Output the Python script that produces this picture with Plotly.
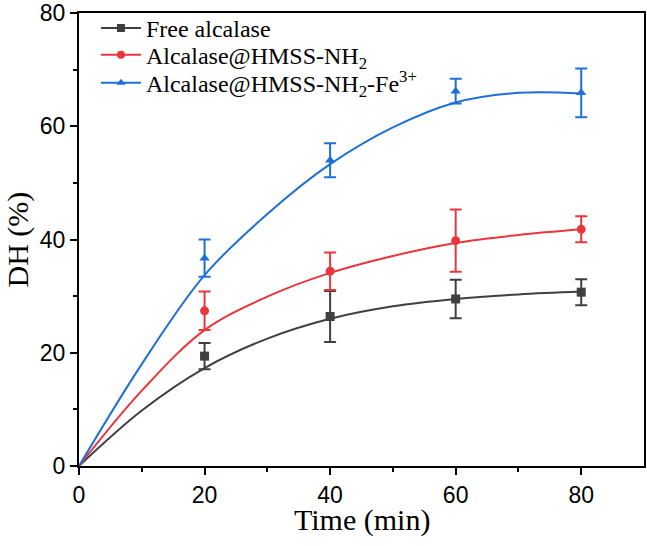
import plotly.graph_objects as go

# ---- data ----
time_pts = [20, 40, 60, 80]
free_dh = [19.4, 26.4, 29.5, 30.7]
free_err = [2.3, 4.5, 3.4, 2.3]
nh2_dh = [27.4, 34.4, 39.8, 41.8]
nh2_err = [3.4, 3.3, 5.5, 2.3]
fe_dh = [36.7, 54.0, 66.2, 65.9]
fe_err = [3.3, 3.0, 2.2, 4.3]

# fitted curves
curve_t = [0, 10, 20, 30, 40, 50, 60, 70, 80]
free_fit = [0, 9.8, 17.3, 22.5, 26.0, 28.2, 29.5, 30.3, 30.8]
nh2_fit = [0, 13.3, 24.0, 29.9, 34.1, 37.1, 39.4, 40.8, 41.8]
fe_fit = [0, 18.0, 33.7, 44.5, 53.3, 59.8, 64.2, 65.9, 65.8]

x_ticks = [0, 20, 40, 60, 80]
y_ticks = [0, 20, 40, 60, 80]

names = ["Free alcalase",
         "Alcalase@HMSS-NH<sub>2</sub>",
         "Alcalase@HMSS-NH<sub>2</sub>-Fe<sup>3+</sup>"]
colors = ["#3f3f3f", "#e8363c", "#1f6fd8"]
symbols = ["square", "circle", "triangle-up"]
legend_ids = ["legend", "legend2", "legend3"]
legend_y = [0.966, 0.907, 0.845]

series = [(free_dh, free_err, free_fit), (nh2_dh, nh2_err, nh2_fit), (fe_dh, fe_err, fe_fit)]

fig = go.Figure()
for (vals, errs, fit), name, col, sym, lid in zip(series, names, colors, symbols, legend_ids):
    fig.add_trace(go.Scatter(x=curve_t, y=fit, mode="lines", line=dict(color=col, width=2, shape="spline"),
                             showlegend=False, hoverinfo="skip"))
    fig.add_trace(go.Scatter(x=time_pts, y=vals, mode="markers",
                             marker=dict(symbol=sym, size=9, color=col),
                             error_y=dict(type="data", array=errs, visible=True, color=col,
                                          thickness=2, width=6),
                             showlegend=False))
    fig.add_trace(go.Scatter(x=[None], y=[None], mode="lines+markers", name=name, legend=lid,
                             line=dict(color=col, width=2),
                             marker=dict(symbol=sym, size=8, color=col)))

axis_common = dict(ticks="outside", ticklen=7, tickwidth=2, tickcolor="black",
                   showline=True, linewidth=2, linecolor="black", mirror=True,
                   showgrid=False, zeroline=False, automargin=False,
                   tickfont=dict(family="Liberation Sans", size=23, color="black"))

legend_style = dict(x=0.030, xanchor="left", yanchor="middle",
                    font=dict(family="Liberation Serif", size=24, color="black"),
                    bgcolor="rgba(0,0,0,0)", itemwidth=40)

layout_legends = {lid: dict(y=ly, **legend_style) for lid, ly in zip(legend_ids, legend_y)}

fig.update_layout(
    width=647, height=546,
    margin=dict(l=79, r=3, t=13, b=80),
    paper_bgcolor="white", plot_bgcolor="white",
    font=dict(family="Liberation Sans", color="black"),
    annotations=[
        dict(text="Time (min)", xref="paper", yref="paper", x=0.5, y=-0.12, xanchor="center",
             yanchor="middle", showarrow=False,
             font=dict(family="Liberation Serif", size=30, color="black")),
        dict(text="DH (%)", xref="paper", yref="paper", x=-0.108, y=0.5, xanchor="center",
             yanchor="middle", showarrow=False, textangle=-90,
             font=dict(family="Liberation Serif", size=30, color="black")),
    ],
    **layout_legends,
)
fig.update_xaxes(range=[0, 90], tickvals=x_ticks,
                 minor=dict(tickvals=[10, 30, 50, 70], ticks="outside", ticklen=4, tickwidth=2, tickcolor="black"),
                 **axis_common)
fig.update_yaxes(range=[0, 80], tickvals=y_ticks,
                 minor=dict(tickvals=[10, 30, 50, 70], ticks="outside", ticklen=4, tickwidth=2, tickcolor="black"),
                 **axis_common)

fig.write_html("out.html", config={"displayModeBar": False},
               post_script="document.body.style.margin='0px';")
